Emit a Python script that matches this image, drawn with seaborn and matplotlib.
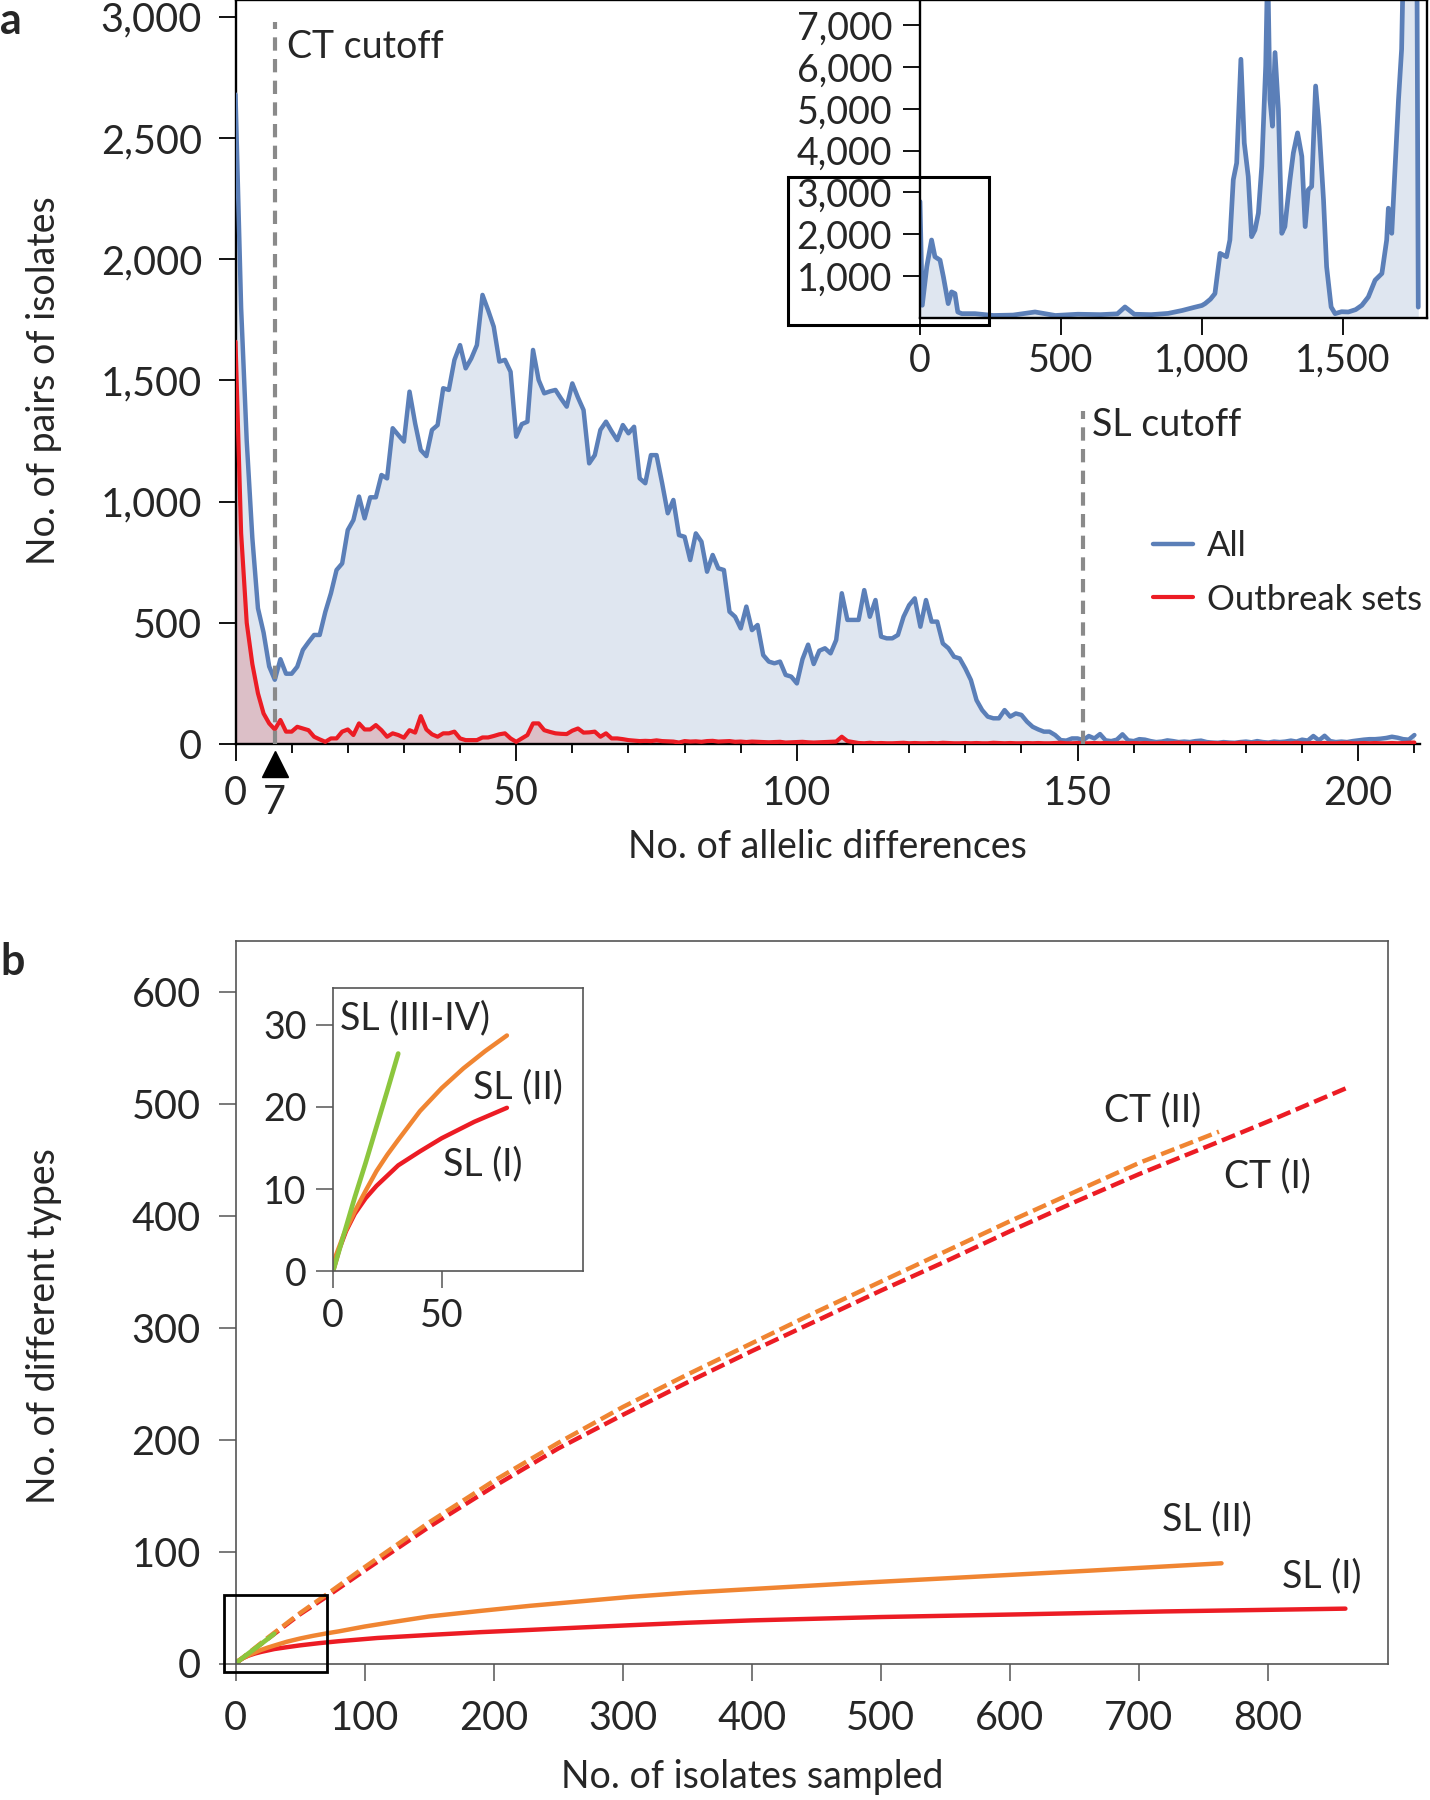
import matplotlib
matplotlib.use("Agg")
import matplotlib.pyplot as plt
import matplotlib.transforms as mtransforms
from matplotlib.patches import Rectangle
import seaborn as sns

# ---------------- data: panel a (main) ----------------
allelic_diff = list(range(0, 211))
pairs_all = [
    2680, 1800, 1250, 850, 560, 460, 320, 265, 350, 290,
    290, 319, 388, 420, 450, 450, 545, 622, 718, 745,
    883, 924, 1021, 931, 1018, 1018, 1110, 1096, 1303, 1275,
    1248, 1454, 1323, 1213, 1188, 1296, 1316, 1468, 1461, 1585,
    1646, 1550, 1591, 1646, 1853, 1790, 1722, 1578, 1585, 1536,
    1268, 1320, 1330, 1626, 1502, 1447, 1455, 1461, 1425, 1392,
    1488, 1430, 1378, 1158, 1192, 1296, 1330, 1290, 1254, 1316,
    1282, 1309, 1096, 1076, 1192, 1192, 1076, 952, 1007, 862,
    855, 759, 869, 835, 711, 780, 725, 718, 546, 525,
    477, 567, 470, 491, 367, 340, 333, 340, 285, 278,
    250, 350, 410, 330, 385, 395, 374, 429, 622, 512,
    512, 512, 635, 525, 594, 443, 436, 436, 450, 525,
    573, 601, 484, 594, 505, 505, 415, 395, 360, 353,
    312, 264, 181, 140, 113, 106, 106, 140, 113, 126,
    120, 92, 71, 60, 51, 51, 37, 16, 14, 23,
    23, 16, 33, 23, 41,
    15, 12, 18, 40, 15, 12, 20, 18, 12, 8,
    10, 15, 12, 8, 10, 8, 12, 14, 8, 6,
    5, 8, 6, 5, 8, 10, 7, 12, 8, 6,
    10, 8, 10, 14, 10, 18, 14, 33, 15, 34,
    12, 8, 10, 8, 12, 15, 18, 20, 20, 22,
    25, 30, 26, 20, 18, 37,
]
pairs_outbreak = [
    1660, 870, 500, 330, 209, 126, 85, 60, 99, 51,
    51, 71, 64, 57, 30, 19, 9, 23, 23, 51,
    60, 37, 85, 60, 60, 78, 57, 30, 44, 37,
    26, 57, 47, 115, 60, 40, 30, 44, 44, 51,
    23, 16, 16, 16, 27, 27, 33, 40, 44, 23,
    9, 23, 37, 85, 85, 57, 50, 44, 42, 41,
    55, 64, 47, 48, 51, 30, 44, 23, 23, 20,
    16, 14, 12, 13, 12, 15, 12, 11, 10, 6,
    12, 10, 11, 9, 12, 13, 10, 11, 12, 9,
    10, 8, 10, 9, 8, 7, 8, 9, 6, 7,
    8, 9, 7, 6, 7, 8, 9, 10, 30, 12, 8,
    4, 3, 5, 3, 4, 3, 3, 4, 5, 3,
    4, 3, 3, 4, 3, 5, 4, 3, 3, 4,
    3, 4, 3, 3, 5, 4, 3, 4, 3, 3,
    4, 3, 4, 3, 3, 4, 5, 3, 3, 4,
    3, 3, 4, 3, 4, 3, 3, 5, 3, 4,
    3, 4, 3, 3, 4, 3, 4, 5, 3, 3,
    4, 3, 3, 4, 3, 4, 3, 3, 5, 4,
    3, 4, 3, 3, 4, 3, 4, 3, 5, 3,
    3, 4, 3, 4, 3, 3, 4, 5, 3, 3,
    4, 3, 4, 3, 3, 4, 3, 4, 5, 6,
]
a_yticks = [0, 500, 1000, 1500, 2000, 2500, 3000]
a_yticklabels = ["0", "500", "1,000", "1,500", "2,000", "2,500", "3,000"]
a_xticks = [0, 50, 100, 150, 200]
a_xticklabels = ["0", "50", "100", "150", "200"]
ct_cutoff = 7
sl_cutoff = 151

# ---------------- data: panel a (inset, full range) ----------------
inset_diff = [0, 8, 24, 41, 53, 71, 83, 100, 112, 124, 134, 148, 195, 260, 330,
              408, 480, 560, 640, 700, 727, 760, 820, 880, 930, 970, 1000, 1011,
              1030, 1046, 1064, 1087, 1099, 1111, 1123, 1138, 1150, 1164, 1176,
              1188, 1200, 1212, 1226, 1233, 1241, 1250, 1259, 1271, 1283, 1294,
              1312, 1324, 1339, 1354, 1366, 1377, 1389, 1403, 1415, 1431, 1442,
              1458, 1472, 1495, 1519, 1545, 1567, 1590, 1614, 1638, 1655, 1661,
              1673, 1685, 1697, 1708, 1714, 1740, 1762, 1767]
inset_pairs = [2784, 304, 1224, 1864, 1464, 1384, 984, 344, 624, 584, 144, 104, 104,
               60, 70, 144, 60, 90, 80, 100, 264, 90, 80, 110, 180, 250, 300, 344,
               450, 584, 1544, 1464, 1864, 3304, 3704, 6184, 4184, 3384, 1944, 2104,
               2504, 3624, 6024, 8500, 5224, 4584, 6344, 4984, 2024, 2184, 3304,
               3944, 4424, 3864, 2184, 3064, 3144, 5544, 4584, 2824, 1224, 264, 104,
               150, 144, 200, 304, 504, 904, 1064, 1864, 2624, 2024, 3624, 5224,
               6424, 8500, 9000, 9000, 260]
ai_xticks = [0, 500, 1000, 1500]
ai_xticklabels = ["0", "500", "1,000", "1,500"]
ai_yticks = [1000, 2000, 3000, 4000, 5000, 6000, 7000]
ai_yticklabels = ["1,000", "2,000", "3,000", "4,000", "5,000", "6,000", "7,000"]

# ---------------- data: panel b ----------------
iso_ct2 = [0, 25, 50, 71, 100, 150, 200, 250, 300, 350, 400, 450, 500, 550, 600,
           650, 700, 762]
types_ct2 = [0, 23, 45, 62, 86, 126, 163, 197, 229, 258, 286, 314, 341, 368, 395,
             421, 447, 475]
iso_ct1 = [0, 25, 50, 71, 100, 150, 200, 250, 300, 350, 400, 450, 500, 550, 600,
           650, 700, 762, 802, 863]
types_ct1 = [0, 22, 44, 60, 83, 122, 158, 192, 222, 251, 279, 306, 333, 359, 386,
             412, 437, 466, 485, 515]
iso_sl2 = [0, 5, 10, 15, 20, 25, 30, 40, 50, 60, 70, 80, 100, 120, 150, 190, 228,
           270, 306, 350, 400, 480, 562, 660, 764]
types_sl2 = [1, 4.5, 7.3, 9.8, 12.2, 14.2, 16.0, 19.5, 22.3, 24.7, 26.8, 28.7, 33.0,
             36.7, 42.0, 47.0, 51.5, 55.8, 59.5, 63.2, 66.5, 71.8, 76.8, 82.8, 89.5]
iso_sl1 = [0, 3, 6, 10, 15, 20, 30, 40, 50, 65, 80, 110, 150, 190, 228, 270, 306,
           350, 400, 500, 613, 720, 860]
types_sl1 = [0, 2.8, 4.9, 7.0, 8.9, 10.4, 12.9, 14.6, 16.2, 18.2, 19.9, 22.8, 25.5,
             28.0, 30.0, 32.3, 34.2, 36.4, 38.5, 41.5, 44.0, 46.5, 49.0]
iso_sl34 = [0, 5, 10, 15, 20, 25, 30]
types_sl34 = [0, 4.5, 9, 13.2, 17.6, 22, 26.5]
b_xticks = [0, 100, 200, 300, 400, 500, 600, 700, 800]
b_yticks = [0, 100, 200, 300, 400, 500, 600]
bi_xticks = [0, 50]
bi_yticks = [0, 10, 20, 30]
inset_last = 80  # inset curves stop at 80 isolates

# ---------------- style ----------------
sns.set_theme(style="ticks")
plt.rcParams["font.family"] = ["Lato", "DejaVu Sans"]
FS = 27
TFS = 28.5

BLUE = "#5b7fb8"
BLUE_FILL = "#dfe6f0"
RED = "#ec1c24"
RED_FILL = "#dcbfc7"
ORANGE = "#f08532"
GREEN = "#8cc63e"
GRAY = "#8a8a8a"
BGRAY = "#555555"

W, H = 1430, 1800
fig = plt.figure(figsize=(W / 100, H / 100), dpi=100)


def box(x0, y0, x1, y1):
    return [x0 / W, 1 - y1 / H, (x1 - x0) / W, (y1 - y0) / H]


axA = fig.add_axes(box(235.5, 0, 1420, 744))
axAi = fig.add_axes(box(920, 0, 1427, 318))
axB = fig.add_axes(box(235.5, 941.3, 1388, 1663.5))
axBi = fig.add_axes(box(333, 987.8, 583, 1271.4))

# ---------------- panel a main ----------------
axA.fill_between(allelic_diff, pairs_all, color=BLUE_FILL, lw=0, zorder=1)
axA.fill_between(allelic_diff, pairs_outbreak, color=RED_FILL, lw=0, zorder=1.5)
sns.lineplot(x=allelic_diff, y=pairs_all, ax=axA, color=BLUE, lw=3.2, zorder=3)
sns.lineplot(x=allelic_diff, y=pairs_outbreak, ax=axA, color=RED, lw=3.0, zorder=3.5)
lA = list(axA.lines)
axA.vlines(ct_cutoff, 0, 2980, colors=GRAY, linestyles=(0, (3.2, 2.0)), lw=3.0, zorder=4)
axA.vlines(sl_cutoff, 0, 1374, colors=GRAY, linestyles=(0, (3.2, 2.0)), lw=3.0, zorder=4)
axA.text(9.1, 2831, "CT cutoff", fontsize=FS, va="baseline", ha="left")
axA.text(152.5, 1271, "SL cutoff", fontsize=FS, va="baseline", ha="left")

axA.set_xlim(0, 211)
axA.set_ylim(0, 3070)
axA.set_xticks(a_xticks)
axA.set_xticklabels(a_xticklabels)
axA.set_xticks(list(range(0, 211, 10)), minor=True)
axA.set_yticks(a_yticks)
axA.set_yticklabels(a_yticklabels)
axA.tick_params(axis="both", which="major", direction="out", length=12, width=1.3,
                labelsize=TFS, color="black")
axA.tick_params(axis="x", which="major", pad=10)
axA.tick_params(axis="y", which="major", pad=12)
axA.tick_params(axis="x", which="minor", direction="out", length=6.5, width=1.3, color="black")
for s in ["left", "bottom", "top"]:
    axA.spines[s].set_linewidth(1.7)
    axA.spines[s].set_color("black")
axA.spines["right"].set_visible(False)
axA.set_xlabel("No. of allelic differences", fontsize=FS, va="center")
axA.xaxis.set_label_coords(0.50, (744 - 847) / 744)
axA.set_ylabel("No. of pairs of isolates", fontsize=FS, va="center")
axA.yaxis.set_label_coords((44 - 235.5) / 1184.5, 0.488)

trA = mtransforms.blended_transform_factory(axA.transData, axA.transAxes)
axA.plot([ct_cutoff], [-0.0265], marker="^", markersize=19, color="black",
         transform=trA, clip_on=False, zorder=6)
axA.text(ct_cutoff, (744 - 803) / 744, "7", fontsize=TFS, ha="center", va="center",
         transform=trA)

axA.legend(handles=lA[:2], labels=["All", "Outbreak sets"], loc="upper left",
           bbox_to_anchor=(1152.5 / W, 1 - 530 / H), bbox_transform=fig.transFigure,
           frameon=False, fontsize=25, handlelength=1.18, handletextpad=0.4,
           labelspacing=0.62, borderpad=0, borderaxespad=0)

# ---------------- panel a inset ----------------
axAi.set_facecolor("white")
axAi.fill_between(inset_diff, inset_pairs, color=BLUE_FILL, lw=0)
sns.lineplot(x=inset_diff, y=inset_pairs, ax=axAi, color=BLUE, lw=3.4)
axAi.set_xlim(0, 1798)
axAi.set_ylim(0, 7600)
axAi.set_xticks(ai_xticks)
axAi.set_xticklabels(ai_xticklabels)
axAi.set_yticks(ai_yticks)
axAi.set_yticklabels(ai_yticklabels)
axAi.tick_params(axis="both", direction="out", length=12, width=1.3, labelsize=FS,
                 color="black")
axAi.tick_params(axis="x", pad=6)
axAi.tick_params(axis="y", pad=8)
for s in axAi.spines.values():
    s.set_linewidth(1.7)
    s.set_color("black")
axAi.add_patch(Rectangle((-468, -167), 711, 3537, fill=False, lw=2.2, ec="black",
                         clip_on=False, zorder=10))

# ---------------- panel b main ----------------
dash = (0, (3.2, 1.3))
sns.lineplot(x=iso_ct1, y=types_ct1, ax=axB, color=RED, lw=3.2, linestyle=dash)
sns.lineplot(x=iso_ct2, y=types_ct2, ax=axB, color=ORANGE, lw=3.2, linestyle=dash)
sns.lineplot(x=iso_sl1, y=types_sl1, ax=axB, color=RED, lw=3.2)
sns.lineplot(x=iso_sl2, y=types_sl2, ax=axB, color=ORANGE, lw=3.2)
sns.lineplot(x=iso_sl34, y=types_sl34, ax=axB, color=GREEN, lw=3.4)
axB.set_xlim(0, 893)
axB.set_ylim(0, 645)
axB.set_xticks(b_xticks)
axB.set_yticks(b_yticks)
axB.tick_params(axis="both", direction="out", length=12, width=1.1, labelsize=TFS,
                color=BGRAY)
axB.tick_params(axis="x", pad=14)
axB.tick_params(axis="y", pad=13)
for s in axB.spines.values():
    s.set_linewidth(1.2)
    s.set_color(BGRAY)
axB.set_xlabel("No. of isolates sampled", fontsize=FS, va="center")
axB.xaxis.set_label_coords(0.448, (1663.5 - 1777) / 722.2)
axB.set_ylabel("No. of different types", fontsize=FS, va="center")
axB.yaxis.set_label_coords((44 - 235.5) / 1152.5, 0.467)
axB.text(673, 484.6, "CT (II)", fontsize=FS, va="baseline", ha="left")
axB.text(766, 425.6, "CT (I)", fontsize=FS, va="baseline", ha="left")
axB.text(718, 119, "SL (II)", fontsize=FS, va="baseline", ha="left")
axB.text(811, 67.7, "SL (I)", fontsize=FS, va="baseline", ha="left")
axB.add_patch(Rectangle((-9.2, -7.6), 80.4, 69.1, fill=False, lw=2.0, ec="black",
                        clip_on=False, zorder=10))

# ---------------- panel b inset ----------------
n2 = iso_sl2.index(inset_last) + 1
n1 = iso_sl1.index(inset_last) + 1
axBi.set_facecolor("white")
sns.lineplot(x=iso_sl1[:n1], y=types_sl1[:n1], ax=axBi, color=RED, lw=3.2)
sns.lineplot(x=iso_sl2[:n2], y=types_sl2[:n2], ax=axBi, color=ORANGE, lw=3.2)
sns.lineplot(x=iso_sl34, y=types_sl34, ax=axBi, color=GREEN, lw=3.4)
axBi.set_xlim(0, 115)
axBi.set_ylim(0, 34.5)
axBi.set_xticks(bi_xticks)
axBi.set_yticks(bi_yticks)
axBi.tick_params(axis="both", direction="out", length=12, width=1.1, labelsize=FS,
                 color=BGRAY, pad=7)
for s in axBi.spines.values():
    s.set_linewidth(1.2)
    s.set_color(BGRAY)
axBi.text(3.2, 29.5, "SL (III-IV)", fontsize=FS, va="baseline", ha="left")
axBi.text(64.3, 21.1, "SL (II)", fontsize=FS, va="baseline", ha="left")
axBi.text(50.6, 11.7, "SL (I)", fontsize=FS, va="baseline", ha="left")

# ---------------- panel letters ----------------
fig.text(0.0, 1 - 1 / H, "a", fontsize=31, fontweight="bold", ha="left", va="top")
fig.text(0.0, 1 - 975 / H, "b", fontsize=31, fontweight="bold", ha="left", va="baseline")

fig.savefig("out.png", dpi=100)
